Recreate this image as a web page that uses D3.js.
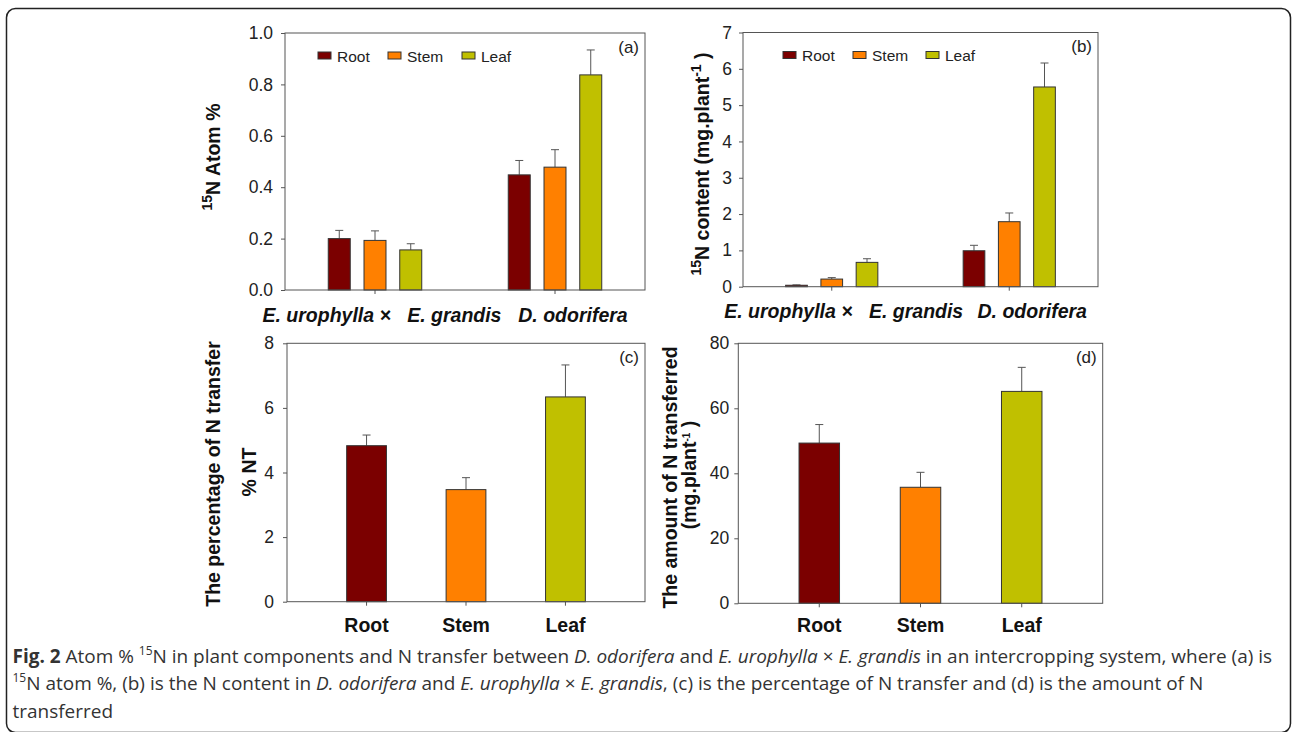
<!DOCTYPE html>
<html>
<head>
<meta charset="utf-8">
<script src="https://cdn.jsdelivr.net/npm/d3@7"></script>
<style>
body { margin: 0; background: white; }
svg { display: block; }
</style>
</head>
<body>
<script>
'use strict'

let series = ['Root', 'Stem', 'Leaf'],
    colors = ['#7b0000', '#ff8000', '#c0c000'],
    species = ['E. urophylla \u00d7\u00a0\u00a0\u00a0E. grandis', 'D. odorifera']

// (a) 15N atom %, per species
let atomEu = [0.200, 0.193, 0.156],
    atomEuSe = [0.032, 0.037, 0.024],
    atomDo = [0.448, 0.478, 0.837],
    atomDoSe = [0.056, 0.068, 0.097]

// (b) 15N content (mg/plant)
let contentEu = [0.04, 0.21, 0.67],
    contentEuSe = [0.01, 0.04, 0.10],
    contentDo = [0.99, 1.79, 5.50],
    contentDoSe = [0.15, 0.24, 0.66]

// (c) percentage of N transfer
let ntPct = [4.83, 3.47, 6.34],
    ntPctSe = [0.33, 0.37, 0.99]

// (d) amount of N transferred (mg/plant)
let ntAmount = [49.3, 35.7, 65.2],
    ntAmountSe = [5.7, 4.6, 7.4]

let ticksA = [0, 0.2, 0.4, 0.6, 0.8, 1.0],
    ticksB = [0, 1, 2, 3, 4, 5, 6, 7],
    ticksC = [0, 2, 4, 6, 8],
    ticksD = [0, 20, 40, 60, 80]

let font = '"Liberation Sans", Arial, sans-serif',
    axisColor = '#555',
    barStroke = '#333',
    tickSize = 17.5

let svg = d3.select('body').append('svg')
    .attr('width', 1292)
    .attr('height', 732)
    .style('font-family', font)

svg.append('rect')
    .attr('width', 1292)
    .attr('height', 732)
    .attr('fill', 'white')

// rounded frame round the figure
svg.append('rect')
    .attr('x', 6.5)
    .attr('y', 8.5)
    .attr('width', 1284)
    .attr('height', 724)
    .attr('rx', 9)
    .attr('fill', 'none')
    .attr('stroke', '#222')
    .attr('stroke-width', 1.5)

// text with superscript parts: [[text, 'sup' | '']]
function rich(text, parts, size, supSize, lift) {
    let raised = false
    parts.forEach(function(p) {
        let ts = text.append('tspan').text(p[0])
        if (p[1] === 'sup') {
            ts.attr('font-size', supSize).attr('dy', raised ? 0 : -lift)
            raised = true
        } else {
            if (raised) ts.attr('dy', lift)
            raised = false
        }
    })
    return text
}

function makePanel(box, max, ticks, fmt, pad, letter) {
    let g = svg.append('g')
    let y = d3.scaleLinear().domain([0, max]).range([box.bottom, box.top])

    g.append('g')
        .attr('class', 'yaxis')
        .attr('transform', 'translate(' + box.left + ',0)')
        .call(d3.axisLeft(y).tickValues(ticks).tickSize(4).tickPadding(pad).tickFormat(fmt))
        .attr('font-family', font)
        .attr('font-size', tickSize)
        .call(a => a.select('.domain').remove())
        .call(a => a.selectAll('line').attr('stroke', axisColor))
        .call(a => a.selectAll('text').attr('fill', '#222'))

    g.append('text')
        .attr('x', box.right - 6)
        .attr('y', box.top + 19.5)
        .attr('text-anchor', 'end')
        .attr('font-size', 17)
        .attr('fill', '#222')
        .text(letter)

    return {g: g, y: y}
}

function frame(g, box) {
    g.append('rect')
        .attr('x', box.left)
        .attr('y', box.top)
        .attr('width', box.right - box.left)
        .attr('height', box.bottom - box.top)
        .attr('fill', 'none')
        .attr('stroke', axisColor)
        .attr('stroke-width', 1)
}

function errorBars(g, rows, cx, y) {
    let eb = g.selectAll('.err').data(rows).enter().append('g')
        .attr('class', 'err')
        .attr('stroke', axisColor)
        .attr('stroke-width', 1)
    eb.append('line')
        .attr('x1', cx).attr('x2', cx)
        .attr('y1', d => y(d.v)).attr('y2', d => y(d.v + d.se))
    eb.append('line')
        .attr('x1', d => cx(d) - 4).attr('x2', d => cx(d) + 4)
        .attr('y1', d => y(d.v + d.se)).attr('y2', d => y(d.v + d.se))
}

function groupedPanel(box, vals, ses, max, ticks, fmt, pad, letter, labelShift, legendX) {
    let p = makePanel(box, max, ticks, fmt, pad, letter),
        g = p.g, y = p.y

    let x0 = d3.scaleBand().domain(species).range([box.left, box.right])
    let x1 = d3.scaleBand().domain(series).range([0, x0.bandwidth()])
        .paddingInner(0.385).paddingOuter(1.21)

    let rows = []
    species.forEach(function(sp, j) {
        series.forEach(function(s, i) {
            rows.push({sp: sp, s: s, i: i, v: vals[j][i], se: ses[j][i]})
        })
    })

    g.append('g')
        .attr('transform', 'translate(0,' + box.bottom + ')')
        .call(d3.axisBottom(x0).tickSize(4).tickFormat(''))
        .call(a => a.select('.domain').remove())
        .call(a => a.selectAll('line').attr('stroke', axisColor))

    errorBars(g, rows, d => x0(d.sp) + x1(d.s) + x1.bandwidth() / 2, y)

    g.selectAll('.bar').data(rows).enter().append('rect')
        .attr('class', 'bar')
        .attr('x', d => x0(d.sp) + x1(d.s))
        .attr('y', d => y(d.v))
        .attr('width', x1.bandwidth())
        .attr('height', d => box.bottom - y(d.v))
        .attr('fill', d => colors[d.i])
        .attr('stroke', barStroke)
        .attr('stroke-width', 1)

    frame(g, box)

    g.selectAll('.sp').data(species).enter().append('text')
        .attr('class', 'sp')
        .attr('x', (d, i) => x0(d) + x0.bandwidth() / 2 + labelShift[i])
        .attr('y', box.bottom + 31.5)
        .attr('text-anchor', 'middle')
        .attr('font-size', 19.5)
        .attr('font-weight', 'bold')
        .attr('font-style', 'italic')
        .attr('fill', '#111')
        .text(d => d)

    // legend
    let lg = g.selectAll('.lg').data(series).enter().append('g')
        .attr('class', 'lg')
        .attr('transform', (d, i) => 'translate(' + (box.left + legendX[i]) + ',' + (box.top + 19) + ')')
    lg.append('rect')
        .attr('width', 13)
        .attr('height', 7)
        .attr('fill', (d, i) => colors[i])
        .attr('stroke', barStroke)
        .attr('stroke-width', 1)
    lg.append('text')
        .attr('x', 19)
        .attr('y', 9.5)
        .attr('font-size', 15.5)
        .attr('fill', '#222')
        .text(d => d)
    return g
}

function simplePanel(box, vals, ses, max, ticks, pad, letter, labelPad) {
    let p = makePanel(box, max, ticks, d3.format('d'), pad, letter),
        g = p.g, y = p.y

    let x = d3.scaleBand().domain(series).range([box.left, box.right]).padding(0.6)

    let rows = series.map((s, i) => ({s: s, i: i, v: vals[i], se: ses[i]}))

    g.append('g')
        .attr('transform', 'translate(0,' + box.bottom + ')')
        .call(d3.axisBottom(x).tickSize(4).tickPadding(labelPad))
        .attr('font-family', font)
        .attr('font-size', 19.5)
        .attr('font-weight', 'bold')
        .call(a => a.select('.domain').remove())
        .call(a => a.selectAll('line').attr('stroke', axisColor))
        .call(a => a.selectAll('text').attr('fill', '#111'))

    errorBars(g, rows, d => x(d.s) + x.bandwidth() / 2, y)

    g.selectAll('.bar').data(rows).enter().append('rect')
        .attr('class', 'bar')
        .attr('x', d => x(d.s))
        .attr('y', d => y(d.v))
        .attr('width', x.bandwidth())
        .attr('height', d => box.bottom - y(d.v))
        .attr('fill', d => colors[d.i])
        .attr('stroke', barStroke)
        .attr('stroke-width', 1)

    frame(g, box)
    return g
}

function yTitle(x, y, parts, size, supSize, lift) {
    let t = svg.append('text')
        .attr('transform', 'translate(' + x + ',' + y + ') rotate(-90)')
        .attr('text-anchor', 'middle')
        .attr('font-size', size)
        .attr('font-weight', 'bold')
        .attr('fill', '#111')
    return rich(t, parts, size, supSize || 14, lift || 8)
}

// (a)
groupedPanel({left: 285, right: 645, top: 33, bottom: 290},
    [atomEu, atomDo], [atomEuSe, atomDoSe], 1.0, ticksA, d3.format('.1f'), 8, '(a)',
    [7, 18], [33, 103, 177])
yTitle(219.5, 157, [['15', 'sup'], ['N Atom %', '']], 19.5)

// (b)
groupedPanel({left: 743, right: 1098, top: 32.5, bottom: 286.7},
    [contentEu, contentDo], [contentEuSe, contentDoSe], 7, ticksB, d3.format('d'), 7, '(b)',
    [12, 23], [40, 110, 183])
yTitle(708.5, 164, [['15', 'sup'], ['N content (mg.plant', ''], ['-1', 'sup'], [' )', '']], 19.5)

// (c)
simplePanel({left: 287, right: 645, top: 343.3, bottom: 601.7},
    ntPct, ntPctSe, 8, ticksC, 9, '(c)', 12)
yTitle(219.5, 474, [['The percentage of N transfer', '']], 19.5)
yTitle(256, 472, [['% NT', '']], 19.5)

// (d)
simplePanel({left: 738.3, right: 1102.7, top: 343.3, bottom: 603.3},
    ntAmount, ntAmountSe, 80, ticksD, 5, '(d)', 10.5)
yTitle(677, 477.5, [['The amount of N transferred', '']], 19.5)
yTitle(696, 475, [['(mg.plant', ''], ['-1', 'sup'], [' )', '']], 19.5, 10, 6)

// caption
let captionLines = [
    [['Fig. 2', 'b'], [' Atom % ', ''], ['15', 'sup'], ['N in plant components and N transfer between ', ''],
     ['D. odorifera', 'i'], [' and ', ''], ['E. urophylla', 'i'], [' \u00d7 ', ''], ['E. grandis', 'i'],
     [' in an intercropping system, where (a) is', '']],
    [['15', 'sup'], ['N atom %, (b) is the N content in ', ''], ['D. odorifera', 'i'], [' and ', ''],
     ['E. urophylla', 'i'], [' \u00d7 ', ''], ['E. grandis', 'i'],
     [', (c) is the percentage of N transfer and (d) is the amount of N', '']],
    [['transferred', '']]
]

let captionTexts = captionLines.map(function(line, k) {
    let t = svg.append('text')
        .attr('x', 12.5)
        .attr('y', 662.7 + k * 27.5)
        .attr('font-family', '"Open Sans", "Noto Sans", sans-serif')
        .attr('font-size', 17)
        .attr('fill', '#333')
    let raised = false
    line.forEach(function(p) {
        let ts = t.append('tspan').text(p[0])
        if (p[1] === 'b') ts.attr('font-weight', 'bold')
        if (p[1] === 'i') ts.attr('font-style', 'italic')
        if (p[1] === 'sup') {
            ts.attr('font-size', 12).attr('dy', -8)
            raised = true
        } else if (raised) {
            ts.attr('dy', 8)
            raised = false
        }
    })
    return t
})

// size the caption so the first line runs to the right edge like the original
let natural = captionTexts[0].node().getComputedTextLength(),
    captionSize = 17 * 1262 / natural
captionTexts.forEach(t => t.attr('font-size', captionSize))
</script>
</body>
</html>
